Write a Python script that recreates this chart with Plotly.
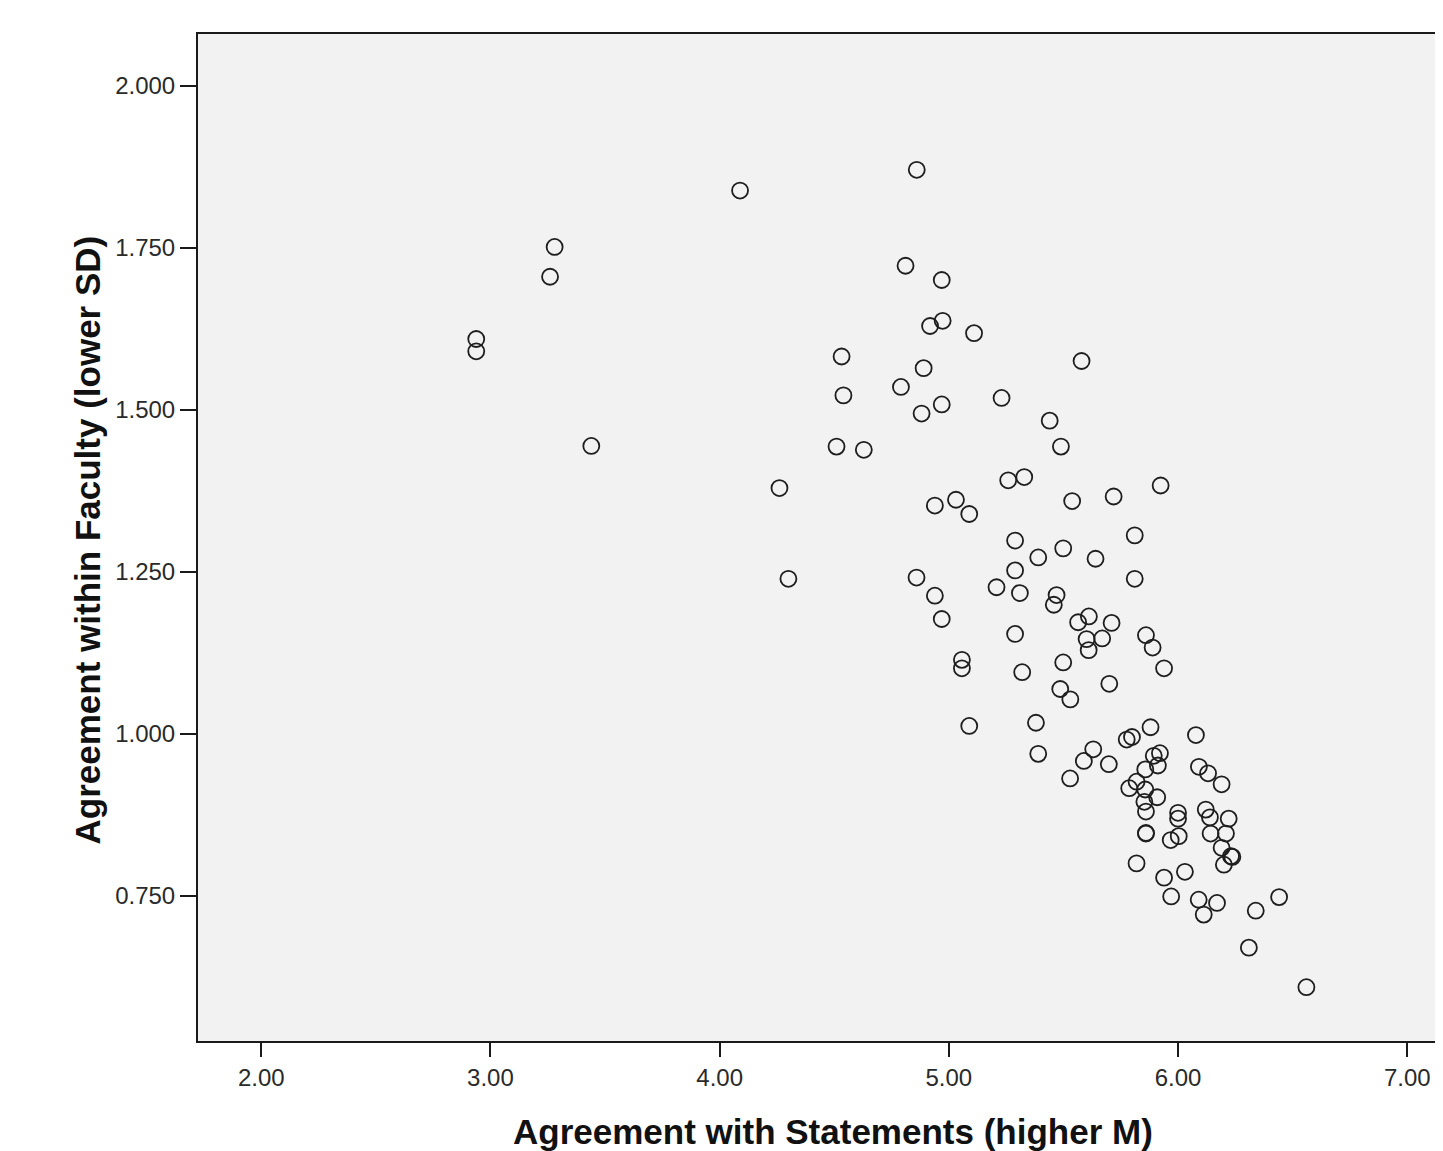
import plotly.graph_objects as go

# Agreement with Statements (higher M)
mean_vals = [
    2.938, 2.938, 3.280, 3.260, 3.440, 4.089, 4.860, 4.811, 4.969, 4.918,
    4.973, 5.110, 4.532, 5.579, 4.890, 4.791, 4.540, 4.969, 5.230, 4.881,
    5.440, 4.510, 4.629, 5.489, 4.261, 5.259, 5.329, 5.924, 4.939, 5.031,
    5.089, 5.538, 5.719, 5.811, 5.289, 5.499, 5.390, 5.640, 5.289, 4.300,
    4.859, 5.811, 5.208, 4.939, 5.310, 5.470, 5.458, 4.969, 5.564, 5.611,
    5.710, 5.289, 5.860, 5.601, 5.669, 5.889, 5.610, 5.057, 5.057, 5.499,
    5.320, 5.939, 5.700, 5.486, 5.530, 5.089, 5.380, 5.880, 6.078, 5.776,
    5.799, 5.390, 5.630, 5.589, 5.698, 5.894, 5.921, 5.912, 5.857, 5.529,
    6.091, 6.131, 6.190, 5.787, 5.819, 5.857, 5.909, 5.853, 5.860, 6.000,
    6.000, 6.121, 6.139, 6.221, 6.142, 6.209, 5.860, 5.860, 6.003, 5.968,
    6.190, 6.231, 6.237, 6.200, 5.819, 5.939, 6.030, 5.970, 6.090, 6.170,
    6.112, 6.339, 6.441, 6.309, 6.560,
]

# Agreement within Faculty (lower SD)
sd_vals = [
    1.609, 1.590, 1.751, 1.705, 1.444, 1.838, 1.870, 1.722, 1.700, 1.629,
    1.637, 1.618, 1.582, 1.575, 1.564, 1.535, 1.522, 1.508, 1.518, 1.494,
    1.483, 1.443, 1.438, 1.443, 1.379, 1.391, 1.396, 1.383, 1.352, 1.361,
    1.339, 1.359, 1.366, 1.306, 1.298, 1.286, 1.272, 1.270, 1.252, 1.239,
    1.241, 1.239, 1.226, 1.213, 1.217, 1.214, 1.199, 1.177, 1.172, 1.181,
    1.171, 1.154, 1.152, 1.146, 1.147, 1.133, 1.129, 1.114, 1.101, 1.110,
    1.095, 1.101, 1.077, 1.069, 1.053, 1.012, 1.017, 1.010, 0.998, 0.991,
    0.995, 0.969, 0.976, 0.958, 0.953, 0.966, 0.970, 0.951, 0.945, 0.931,
    0.949, 0.939, 0.922, 0.916, 0.926, 0.914, 0.902, 0.895, 0.880, 0.878,
    0.869, 0.883, 0.871, 0.869, 0.846, 0.846, 0.847, 0.846, 0.842, 0.836,
    0.824, 0.811, 0.810, 0.798, 0.800, 0.778, 0.787, 0.749, 0.744, 0.739,
    0.721, 0.727, 0.748, 0.670, 0.609,
]

x_ticks = [2.0, 3.0, 4.0, 5.0, 6.0, 7.0]
x_tick_labels = ["2.00", "3.00", "4.00", "5.00", "6.00", "7.00"]
y_ticks = [0.75, 1.0, 1.25, 1.5, 1.75, 2.0]
y_tick_labels = ["0.750", "1.000", "1.250", "1.500", "1.750", "2.000"]

x_title = "Agreement with Statements (higher M)"
y_title = "Agreement within Faculty (lower SD)"

assert len(mean_vals) == len(sd_vals)

fig = go.Figure()
fig.add_trace(go.Scatter(
    x=mean_vals, y=sd_vals, mode="markers",
    marker=dict(symbol="circle-open", size=16, color="#1e1e1e",
                line=dict(width=1.8, color="#1e1e1e")),
    showlegend=False, hoverinfo="x+y",
))

tick_font = dict(family="Liberation Sans, Arial, sans-serif", size=24, color="#2a2a2a")
title_font = dict(family="Liberation Sans, Arial, sans-serif", size=35, color="#111111")

fig.update_layout(
    width=1435, height=1143,
    margin=dict(l=190, r=0, t=26, b=110, pad=0),
    paper_bgcolor="white",
    plot_bgcolor="#f2f2f2",
    xaxis=dict(
        range=[1.724, 7.156], tickvals=x_ticks, ticktext=x_tick_labels,
        showgrid=False, zeroline=False,
        showline=True, linecolor="#1a1a1a", linewidth=2, mirror=True,
        ticks="outside", ticklen=14, tickwidth=2, tickcolor="#1a1a1a",
        tickfont=tick_font,
    ),
    yaxis=dict(
        range=[0.526, 2.0795], tickvals=y_ticks, ticktext=y_tick_labels,
        showgrid=False, zeroline=False,
        showline=True, linecolor="#1a1a1a", linewidth=2, mirror=False,
        ticks="outside", ticklen=16, tickwidth=2, tickcolor="#1a1a1a",
        tickfont=tick_font,
    ),
    annotations=[
        dict(text="<b>" + x_title + "</b>", xref="paper", yref="paper",
             x=0.510, y=-0.0894, xanchor="center", yanchor="middle",
             showarrow=False, font=title_font),
        dict(text="<b>" + y_title + "</b>", xref="paper", yref="paper",
             x=-0.0884, y=0.498, xanchor="center", yanchor="middle",
             textangle=-90, showarrow=False, font=title_font),
    ],
)

fig.write_html("out.html")
